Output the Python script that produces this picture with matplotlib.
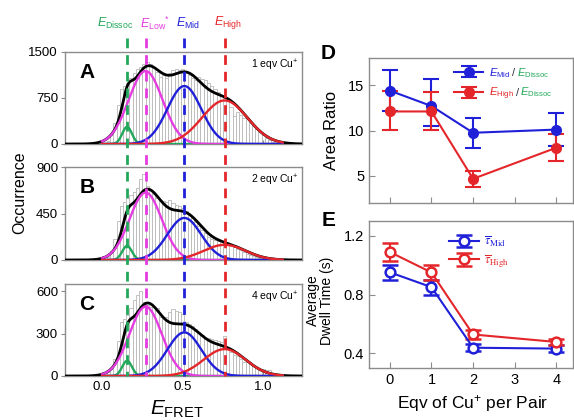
import matplotlib
matplotlib.use('Agg')
import numpy as np
import matplotlib.pyplot as plt
from matplotlib.lines import Line2D
from matplotlib.transforms import blended_transform_factory

plt.rcParams['font.family'] = 'Liberation Sans'
plt.rcParams['mathtext.fontset'] = 'custom'
plt.rcParams['mathtext.rm'] = 'Liberation Sans'
plt.rcParams['mathtext.it'] = 'Liberation Sans:italic'
plt.rcParams['mathtext.bf'] = 'Liberation Sans:bold'

GREEN, MAGENTA, BLUE, RED = '#22a85a', '#e43ce0', '#2020d8', '#e4262a'
FRAME = '#8c8c8c'

# ── Histogram data (bin centres, width 0.02) ────────────────────────────────
bin_centres = np.round(np.arange(0.0, 1.11, 0.02), 2)
counts_A = [10, 20, 50, 150, 350, 640, 900, 950, 1000, 1080, 1150, 1220, 1260, 1300,
            1330, 1300, 1250, 1180, 1100, 1120, 1080, 1150, 1200, 1230, 1210, 1220,
            1180, 1120, 1080, 1050, 1100, 1060, 1040, 1000, 950, 900, 850, 780, 750,
            700, 600, 450, 520, 480, 420, 400, 350, 300, 250, 200, 150, 100, 70, 40,
            20, 10]
counts_B = [5, 10, 30, 90, 200, 380, 520, 560, 600, 630, 660, 700, 780, 830,
            720, 680, 640, 600, 580, 570, 560, 580, 550, 530, 520, 500,
            470, 440, 410, 370, 330, 290, 260, 220, 200, 190, 185, 180, 175,
            160, 150, 130, 110, 95, 80, 60, 45, 35, 25, 15, 10, 6, 4, 2, 1, 0]
counts_C = [5, 10, 30, 50, 120, 250, 380, 400, 430, 480, 540, 570, 600, 520,
            500, 490, 485, 480, 420, 410, 420, 450, 470, 460, 450, 440,
            380, 370, 350, 330, 310, 290, 270, 265, 260, 255, 250, 240, 280,
            200, 170, 150, 140, 120, 100, 100, 85, 70, 60, 50, 50, 40, 40, 20,
            10, 5]

# Gaussian fit components: Dissoc, Low', Mid, High
fit_centre = [0.155, 0.27, 0.51, 0.76]
amp_A = [280, 1190, 945, 710]
amp_B = [137, 652, 407, 147]
amp_C = [108, 490, 308, 190]
sig_A = [0.03, 0.105, 0.105, 0.14]
sig_B = [0.03, 0.10, 0.105, 0.13]
sig_C = [0.03, 0.10, 0.105, 0.13]
comp_colors = [GREEN, MAGENTA, BLUE, RED]
comp_labels = [r'$E_{\mathrm{Dissoc}}$', r'$E_{\mathrm{Low}}{}^{*}$',
               r'$E_{\mathrm{Mid}}$', r'$E_{\mathrm{High}}$']
label_x = [0.08, 0.33, 0.53, 0.78]

panels = [('A', '1 eqv Cu$^{+}$', counts_A, amp_A, sig_A, 1500, [0, 750, 1500]),
          ('B', '2 eqv Cu$^{+}$', counts_B, amp_B, sig_B, 900, [0, 450, 900]),
          ('C', '4 eqv Cu$^{+}$', counts_C, amp_C, sig_C, 650, [0, 300, 600])]

# ── Right panels data ───────────────────────────────────────────────────────
eqv = [0, 1, 2, 4]
ratio_mid = [14.4, 12.7, 9.75, 10.1]
ratio_mid_lo = [12.1, 10.5, 8.1, 8.3]
ratio_mid_hi = [16.7, 15.7, 11.4, 11.9]
ratio_high = [12.1, 12.1, 4.67, 8.1]
ratio_high_lo = [10.1, 10.1, 3.77, 6.6]
ratio_high_hi = [14.35, 14.2, 5.58, 9.6]

tau_mid = [0.951, 0.85, 0.438, 0.432]
tau_mid_lo = [0.90, 0.80, 0.415, 0.41]
tau_mid_hi = [1.003, 0.90, 0.46, 0.455]
tau_high = [1.089, 0.95, 0.528, 0.477]
tau_high_lo = [1.03, 0.90, 0.50, 0.455]
tau_high_hi = [1.15, 1.0, 0.56, 0.50]

W, H = 574, 420
fig = plt.figure(figsize=(W / 100, H / 100), dpi=100)


def box(l, t, r, b):
    return [l / W, 1 - b / H, (r - l) / W, (b - t) / H]


def gauss(x, a, c, s):
    return a * np.exp(-(x - c) ** 2 / (2 * s ** 2))


def style(ax):
    for sp in ax.spines.values():
        sp.set_color(FRAME)
        sp.set_linewidth(1.0)


left_boxes = [box(65, 52, 302, 144), box(65, 167, 302, 260), box(65, 284, 302, 376)]
x_full = np.linspace(-0.23, 1.24, 500)
x_comp = np.linspace(0.0, 1.12, 400)
axes_left = []
for (letter, note, counts, amps, sigs, ytop, yt), bx in zip(panels, left_boxes):
    ax = fig.add_axes(bx)
    axes_left.append(ax)
    ax.bar(bin_centres, counts, width=0.02, facecolor='white', edgecolor='#b8b8b8',
           linewidth=0.6, zorder=1)
    total = np.zeros_like(x_full)
    for a, c, s in zip(amps, fit_centre, sigs):
        total += gauss(x_full, a, c, s)
    ax.plot(x_full, total, color='black', lw=2.0, zorder=3)
    for a, c, s, col in zip(amps, fit_centre, sigs, comp_colors):
        ax.plot(x_comp, gauss(x_comp, a, c, s), color=col, lw=1.7, zorder=4)
    ax.set_xlim(-0.23, 1.24)
    ax.set_ylim(0, ytop)
    ax.set_yticks(yt)
    ax.set_xticks([0, 0.5, 1.0])
    ax.tick_params(axis='x', direction='in', length=3, color=FRAME, labelsize=9.5)
    ax.tick_params(axis='y', direction='out', length=3, color=FRAME, labelsize=9.5, pad=2)
    ax.text(0.06, 0.78, letter, transform=ax.transAxes, fontsize=15, fontweight='bold',
            va='center', ha='left')
    ax.text(0.985, 0.86, note, transform=ax.transAxes, fontsize=7.5, va='center', ha='right')
    style(ax)
    if letter != 'C':
        ax.set_xticklabels([])
    else:
        ax.set_xticklabels(['0.0', '0.5', '1.0'])

axC = axes_left[2]
axC.set_xlabel(r'$E_{\mathrm{FRET}}$', fontsize=15)
axC.xaxis.set_label_coords(0.47, -0.25)

fig.text(27 / W, 1 - 193 / H, 'Occurrence', rotation=90, fontsize=11.5,
         ha='right', va='center')

# dashed guide lines across the three panels and labels on top
tr = blended_transform_factory(axes_left[0].transData, fig.transFigure)
for c, col, lab, lx in zip(fit_centre, comp_colors, comp_labels, label_x):
    fig.add_artist(Line2D([c, c], [1 - 38 / H, 1 - 376 / H], transform=tr, color=col,
                          lw=2.0, ls=(0, (3.5, 2.5)), zorder=10))
    fig.text(lx, 1 - 23 / H, lab, transform=tr, color=col, fontsize=9,
             ha='center', va='center')

# ── D: area ratio ───────────────────────────────────────────────────────────
axD = fig.add_axes(box(369, 58, 573, 203))
axD.errorbar(eqv, ratio_mid,
             yerr=[np.subtract(ratio_mid, ratio_mid_lo), np.subtract(ratio_mid_hi, ratio_mid)],
             color=BLUE, marker='o', ms=7, lw=1.5, capsize=6, capthick=1.5, elinewidth=1.5,
             label=r'$E_{\mathrm{Mid}}$')
axD.errorbar(eqv, ratio_high,
             yerr=[np.subtract(ratio_high, ratio_high_lo), np.subtract(ratio_high_hi, ratio_high)],
             color=RED, marker='o', ms=7, lw=1.5, capsize=6, capthick=1.5, elinewidth=1.5,
             label=r'$E_{\mathrm{High}}$')
axD.set_xlim(-0.5, 4.4)
axD.set_ylim(2, 18)
axD.set_yticks([5, 10, 15])
axD.set_xticks([0, 1, 2, 3, 4])
axD.set_xticklabels([])
axD.tick_params(direction='in', length=4, color=FRAME, labelsize=10.5)
axD.set_ylabel('Area Ratio', fontsize=12)
axD.yaxis.set_label_coords(-0.145, 0.5)
style(axD)
axD.text(-0.2, 1.03, 'D', transform=axD.transAxes, fontsize=15, fontweight='bold',
         ha='center', va='center')
legD = axD.legend(loc='upper left', bbox_to_anchor=(0.38, 1.0), frameon=False,
                  fontsize=8, handlelength=2.6, handletextpad=0.5, labelspacing=0.55,
                  borderaxespad=0.3)
for t, col in zip(legD.get_texts(), [BLUE, RED]):
    t.set_color(col)

# ── E: dwell times ──────────────────────────────────────────────────────────
axE = fig.add_axes(box(369, 221, 573, 368))
axE.errorbar(eqv, tau_mid,
             yerr=[np.subtract(tau_mid, tau_mid_lo), np.subtract(tau_mid_hi, tau_mid)],
             color=BLUE, marker='o', mfc='white', mew=1.8, ms=7, lw=1.5, capsize=6,
             capthick=1.5, elinewidth=1.5, label=r'$\overline{\tau}_{\mathrm{Mid}}$')
axE.errorbar(eqv, tau_high,
             yerr=[np.subtract(tau_high, tau_high_lo), np.subtract(tau_high_hi, tau_high)],
             color=RED, marker='o', mfc='white', mew=1.8, ms=7, lw=1.5, capsize=6,
             capthick=1.5, elinewidth=1.5, label=r'$\overline{\tau}_{\mathrm{High}}$')
axE.set_xlim(-0.5, 4.4)
axE.set_ylim(0.3, 1.3)
axE.set_yticks([0.4, 0.8, 1.2])
axE.set_xticks([0, 1, 2, 3, 4])
axE.tick_params(direction='in', length=4, color=FRAME, labelsize=10.5)
axE.set_ylabel('Average\nDwell Time (s)', fontsize=10, linespacing=1.0)
axE.yaxis.set_label_coords(-0.17, 0.46)
axE.set_xlabel('Eqv of Cu$^{+}$ per Pair', fontsize=12.5)
axE.xaxis.set_label_coords(0.51, -0.17)
style(axE)
axE.text(-0.2, 1.0, 'E', transform=axE.transAxes, fontsize=15, fontweight='bold',
         ha='center', va='center')
legE = axE.legend(loc='upper left', bbox_to_anchor=(0.35, 0.97), frameon=False,
                  fontsize=9, handlelength=2.4, handletextpad=0.4, labelspacing=0.3,
                  borderaxespad=0.3)
for t, col in zip(legE.get_texts(), [BLUE, RED]):
    t.set_color(col)
    t.set_math_fontfamily('stix')

# second colour part of the D legend labels, placed after a first layout pass
fig.canvas.draw()
rend = fig.canvas.get_renderer()
for t in legD.get_texts():
    bb = t.get_window_extent(rend)
    sl = fig.text(bb.x1 / W, bb.y1 / H, r'$\,/\,$', fontsize=8, color='#303040',
                  va='top', ha='left')
    bb2 = sl.get_window_extent(rend)
    fig.text(bb2.x1 / W, bb.y1 / H, r'$E_{\mathrm{Dissoc}}$', fontsize=8, color=GREEN,
             va='top', ha='left')

fig.savefig('out.png', dpi=100)
